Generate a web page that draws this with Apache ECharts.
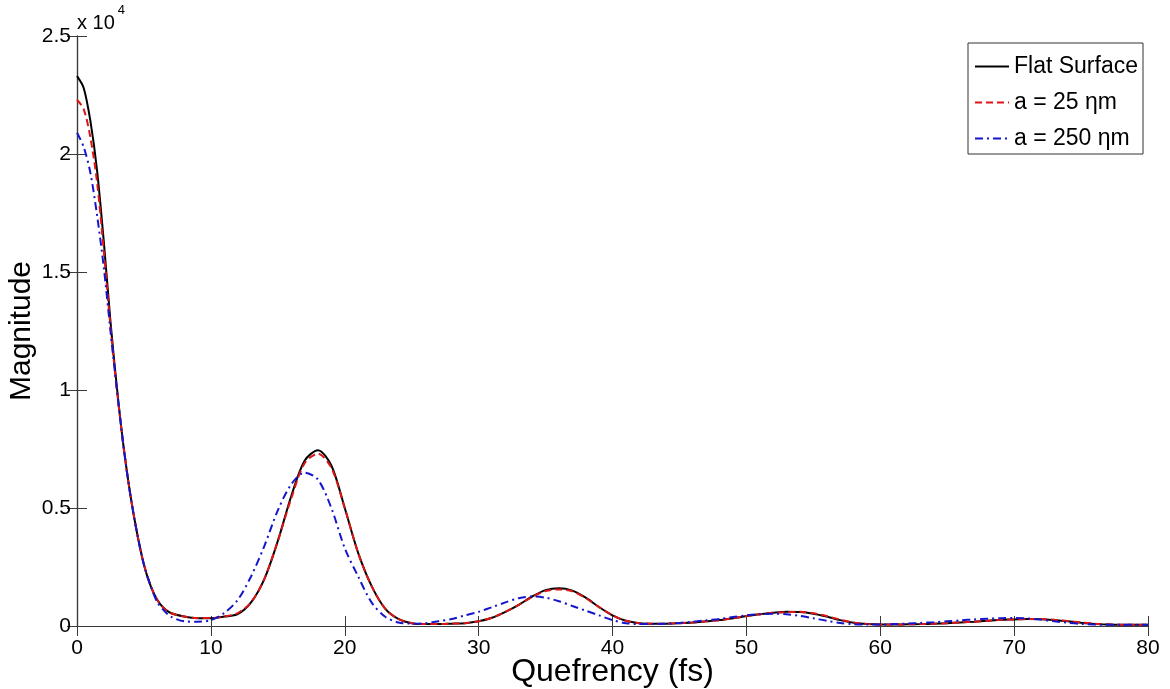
<!DOCTYPE html>
<html>
<head>
<meta charset="utf-8">
<script src="https://cdn.jsdelivr.net/npm/echarts@6/dist/echarts.min.js"></script>
<style>
html,body{margin:0;padding:0;background:#fff;}
#chart{width:1170px;height:689px;}
</style>
</head>
<body>
<div id="chart"></div>
<script>
// Quefrency (fs)
const quefrency = [0,0.5,1,1.5,2,2.5,3,3.5,4,4.5,5,5.5,6,6.5,7,
  8,9,10,11,12,13,14,15,16,17,18,19,20,21,22,23,24,25,26,27,28,29,30,
  31,32,33,34,35,36,37,38,39,40,41,42,43,44,45,46,47,48,49,50,
  51,52,53,54,55,56,57,58,59,60,61,62,63,64,65,66,67,68,69,70,
  71,72,73,74,75,76,77,78,79,80];

// Magnitude, in units of 10^4
const flatSurface = [2.33,2.28,2.14,1.93,1.63,1.29,1.00,0.75,0.55,0.39,0.26,0.17,0.11,0.075,0.055,
  0.04,0.033,0.033,0.04,0.05,0.10,0.20,0.36,0.55,0.70,0.745,0.68,0.50,0.31,0.17,0.075,0.03,0.012,0.008,0.008,0.01,0.012,0.02,
  0.035,0.06,0.09,0.125,0.152,0.16,0.15,0.12,0.08,0.045,0.022,0.012,0.01,0.01,0.012,0.015,0.02,0.025,0.033,0.042,
  0.05,0.056,0.06,0.059,0.052,0.04,0.025,0.014,0.008,0.006,0.006,0.007,0.008,0.01,0.012,0.015,0.018,0.022,0.026,0.028,
  0.03,0.029,0.025,0.02,0.014,0.009,0.006,0.005,0.005,0.005];

const a25 = [2.23,2.19,2.07,1.88,1.59,1.27,0.99,0.75,0.55,0.39,0.26,0.17,0.11,0.075,0.055,
  0.04,0.034,0.034,0.04,0.055,0.10,0.20,0.36,0.54,0.69,0.73,0.67,0.50,0.31,0.17,0.075,0.03,0.012,0.008,0.008,0.01,0.012,0.02,
  0.035,0.06,0.09,0.123,0.148,0.155,0.147,0.118,0.08,0.045,0.022,0.012,0.01,0.01,0.012,0.015,0.02,0.025,0.033,0.042,
  0.05,0.056,0.059,0.06,0.054,0.042,0.027,0.015,0.009,0.006,0.006,0.007,0.008,0.01,0.012,0.015,0.018,0.022,0.026,0.028,
  0.03,0.03,0.026,0.021,0.015,0.01,0.007,0.005,0.005,0.005];

const a250 = [2.09,2.03,1.92,1.74,1.52,1.25,0.99,0.75,0.55,0.39,0.26,0.17,0.10,0.065,0.04,
  0.02,0.018,0.025,0.055,0.11,0.21,0.34,0.49,0.60,0.65,0.62,0.50,0.33,0.21,0.10,0.04,0.015,0.01,0.012,0.02,0.03,0.045,0.06,
  0.08,0.10,0.118,0.125,0.12,0.105,0.085,0.065,0.045,0.025,0.012,0.008,0.008,0.01,0.013,0.018,0.024,0.03,0.038,0.045,
  0.05,0.052,0.05,0.043,0.033,0.022,0.013,0.008,0.006,0.006,0.008,0.01,0.013,0.016,0.02,0.024,0.028,0.031,0.033,0.034,
  0.032,0.027,0.02,0.014,0.009,0.006,0.005,0.005,0.005,0.005];

const seriesNames = ['Flat Surface', 'a = 25 \u03B7m', 'a = 250 \u03B7m'];

function pairs(ys){ return quefrency.map((x,i)=>[x, ys[i]]); }

const FONT = '"Liberation Sans", Arial, sans-serif';
const AX = '#3a3a3a';

const chart = echarts.init(document.getElementById('chart'), null, {renderer:'canvas'});
const option = {
  animation: false,
  backgroundColor: '#ffffff',
  grid: {left: 77, right: 22, top: 36, bottom: 63, containLabel: false, outerBoundsMode: 'none'},
  legend: {
    orient: 'vertical',
    right: 27, top: 43,
    backgroundColor: '#ffffff',
    borderColor: '#333',
    borderWidth: 1,
    borderRadius: 0,
    padding: [12, 5, 4, 6],
    itemWidth: 34, itemHeight: 12, itemGap: 13,
    itemStyle: {opacity: 0},
    textStyle: {fontFamily: FONT, fontSize: 23, color: '#000'},
    data: seriesNames
  },
  xAxis: [{
    type: 'value', min: 0, max: 80, interval: 10,
    name: 'Quefrency (fs)', nameLocation: 'middle', nameGap: 30, nameMoveOverlap: false,
    nameTextStyle: {fontFamily: FONT, fontSize: 32, color: '#000'},
    axisLine: {show: true, lineStyle: {color: AX, width: 1.2}},
    axisTick: {show: true, inside: true, length: 10, lineStyle: {color: AX}},
    axisLabel: {fontFamily: FONT, fontSize: 21, color: '#000', margin: 12},
    splitLine: {show: false}
  },{
    type: 'value', min: 0, max: 80, interval: 10, position: 'top',
    axisLine: {show: true, lineStyle: {color: AX, width: 1.2}},
    axisTick: {show: true, inside: true, length: 10, lineStyle: {color: AX}},
    axisLabel: {show: false}, splitLine: {show: false}
  }],
  yAxis: [{
    type: 'value', min: 0, max: 2.5, interval: 0.5,
    name: 'Magnitude', nameLocation: 'middle', nameGap: 40, nameRotate: 90, nameMoveOverlap: false,
    nameTextStyle: {fontFamily: FONT, fontSize: 30, color: '#000'},
    axisLine: {show: true, lineStyle: {color: AX, width: 1.2}},
    axisTick: {show: true, inside: true, length: 10, lineStyle: {color: AX}},
    axisLabel: {fontFamily: FONT, fontSize: 21, color: '#000', margin: 6},
    splitLine: {show: false}
  },{
    type: 'value', min: 0, max: 2.5, interval: 0.5, position: 'right',
    axisLine: {show: true, lineStyle: {color: AX, width: 1.2}},
    axisTick: {show: true, inside: true, length: 10, lineStyle: {color: AX}},
    axisLabel: {show: false}, splitLine: {show: false}
  }],
  graphic: [{
    type: 'text', left: 77, top: 4,
    style: {
      text: '{b|x 10}{s|4}',
      rich: {
        b: {fontFamily: FONT, fontSize: 20, fill: '#000', padding: [9,0,0,0]},
        s: {fontFamily: FONT, fontSize: 13, fill: '#000', verticalAlign: 'top', padding: [0,0,0,3]}
      }
    }
  }],
  series: [{
    name: seriesNames[0], type: 'line', data: pairs(flatSurface),
    smooth: 0.3, showSymbol: false, symbol: 'none',
    lineStyle: {color: '#000000', width: 2, type: 'solid'},
    itemStyle: {color: '#000000'}
  },{
    name: seriesNames[1], type: 'line', data: pairs(a25),
    smooth: 0.3, showSymbol: false, symbol: 'none',
    lineStyle: {color: '#dd1515', width: 2, type: [7,4]},
    itemStyle: {color: '#dd1515'}
  },{
    name: seriesNames[2], type: 'line', data: pairs(a250),
    smooth: 0.3, showSymbol: false, symbol: 'none',
    lineStyle: {color: '#1515cc', width: 2, type: [8,4,2,4]},
    itemStyle: {color: '#1515cc'}
  }]
};
chart.setOption(option);
</script>
</body>
</html>
